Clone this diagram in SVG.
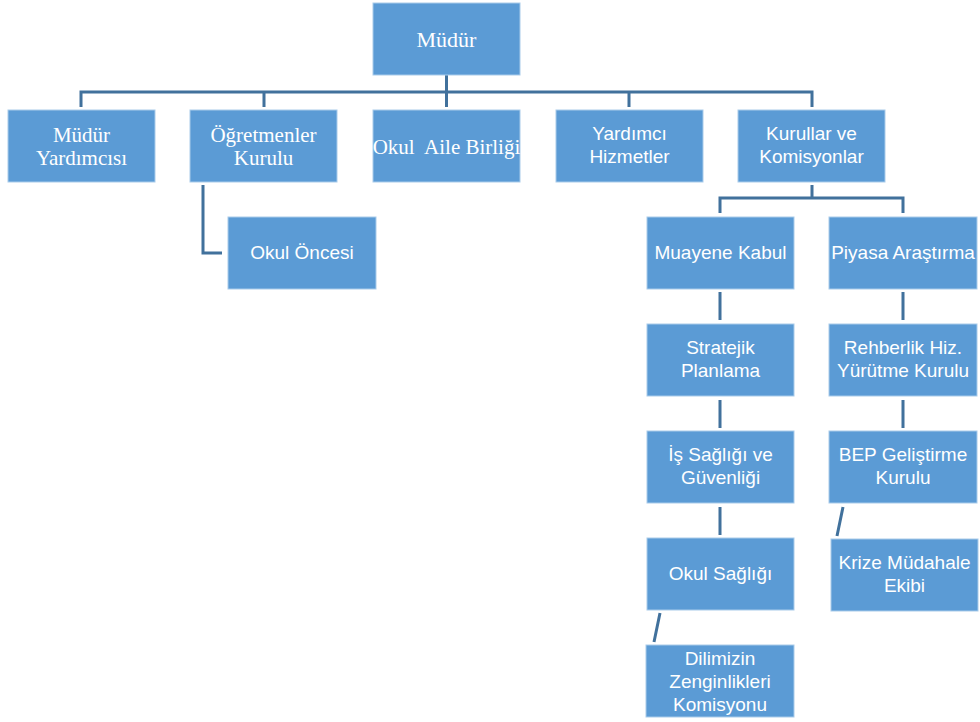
<svg xmlns="http://www.w3.org/2000/svg" width="980" height="722" viewBox="0 0 980 722">
<style>
.box{fill:#5B9BD5;stroke:#A9CBEA;stroke-width:1}
.serif{font-family:"Liberation Serif","Times New Roman",serif;font-size:21px;fill:#fff;text-anchor:middle;white-space:pre}
.sans{font-family:"Liberation Sans",Arial,sans-serif;font-size:19px;fill:#fff;text-anchor:middle}
.conn{fill:none;stroke:#41719C;stroke-width:3}
</style>
<rect width="980" height="722" fill="#fff"/>
<g id="connectors">
<path class="conn" d="M446.5 75V92M81 107V92H812V107M264 92V107M446.5 92V107M629 92V107"/>
<path class="conn" d="M203 185V253H222"/>
<path class="conn" d="M812 185V198H720V213M812 198H903V213"/>
<path class="conn" d="M720 292V320M720 400V428M720 507V535M660 613L654 642"/>
<path class="conn" d="M903 292V320M903 400V428M843 507L837 536"/>
</g>
<g id="mudur"><rect class="box" x="373" y="3" width="147" height="72"/><text class="serif" x="446.5" y="47" style="font-size:22px">Müdür</text></g>
<g id="mudur-yardimcisi"><rect class="box" x="8" y="110" width="147" height="72"/><text class="serif" x="81.5" y="142">Müdür</text><text class="serif" x="81.5" y="165">Yardımcısı</text></g>
<g id="ogretmenler-kurulu"><rect class="box" x="190" y="110" width="147" height="72"/><text class="serif" x="263.5" y="142">Öğretmenler</text><text class="serif" x="263.5" y="165">Kurulu</text></g>
<g id="okul-aile-birligi"><rect class="box" x="373" y="110" width="147" height="72"/><text class="serif" x="446.5" y="154">Okul  Aile Birliği</text></g>
<g id="yardimci-hizmetler"><rect class="box" x="556" y="110" width="147" height="72"/><text class="sans" x="629.5" y="140">Yardımcı</text><text class="sans" x="629.5" y="163">Hizmetler</text></g>
<g id="kurullar-komisyonlar"><rect class="box" x="738" y="110" width="147" height="72"/><text class="sans" x="811.5" y="140">Kurullar ve</text><text class="sans" x="811.5" y="163">Komisyonlar</text></g>
<g id="okul-oncesi"><rect class="box" x="228" y="217" width="148" height="72"/><text class="sans" x="302" y="259">Okul Öncesi</text></g>
<g id="muayene-kabul"><rect class="box" x="647" y="217" width="147" height="72"/><text class="sans" x="720.5" y="259">Muayene Kabul</text></g>
<g id="piyasa-arastirma"><rect class="box" x="829" y="217" width="148" height="72"/><text class="sans" x="903" y="259">Piyasa Araştırma</text></g>
<g id="stratejik-planlama"><rect class="box" x="647" y="324" width="147" height="72"/><text class="sans" x="720.5" y="354">Stratejik</text><text class="sans" x="720.5" y="377">Planlama</text></g>
<g id="rehberlik"><rect class="box" x="829" y="324" width="148" height="72"/><text class="sans" x="903" y="354">Rehberlik Hiz.</text><text class="sans" x="903" y="377">Yürütme Kurulu</text></g>
<g id="is-sagligi"><rect class="box" x="647" y="431" width="147" height="72"/><text class="sans" x="720.5" y="461">İş Sağlığı ve</text><text class="sans" x="720.5" y="484">Güvenliği</text></g>
<g id="bep"><rect class="box" x="829" y="431" width="148" height="72"/><text class="sans" x="903" y="461">BEP Geliştirme</text><text class="sans" x="903" y="484">Kurulu</text></g>
<g id="okul-sagligi"><rect class="box" x="647" y="538" width="147" height="72"/><text class="sans" x="720.5" y="580">Okul Sağlığı</text></g>
<g id="krize-mudahale"><rect class="box" x="831" y="539" width="147" height="72"/><text class="sans" x="904.5" y="569">Krize Müdahale</text><text class="sans" x="904.5" y="592">Ekibi</text></g>
<g id="dilimizin"><rect class="box" x="646" y="645" width="148" height="72"/><text class="sans" x="720" y="665">Dilimizin</text><text class="sans" x="720" y="688">Zenginlikleri</text><text class="sans" x="720" y="711">Komisyonu</text></g>
</svg>
